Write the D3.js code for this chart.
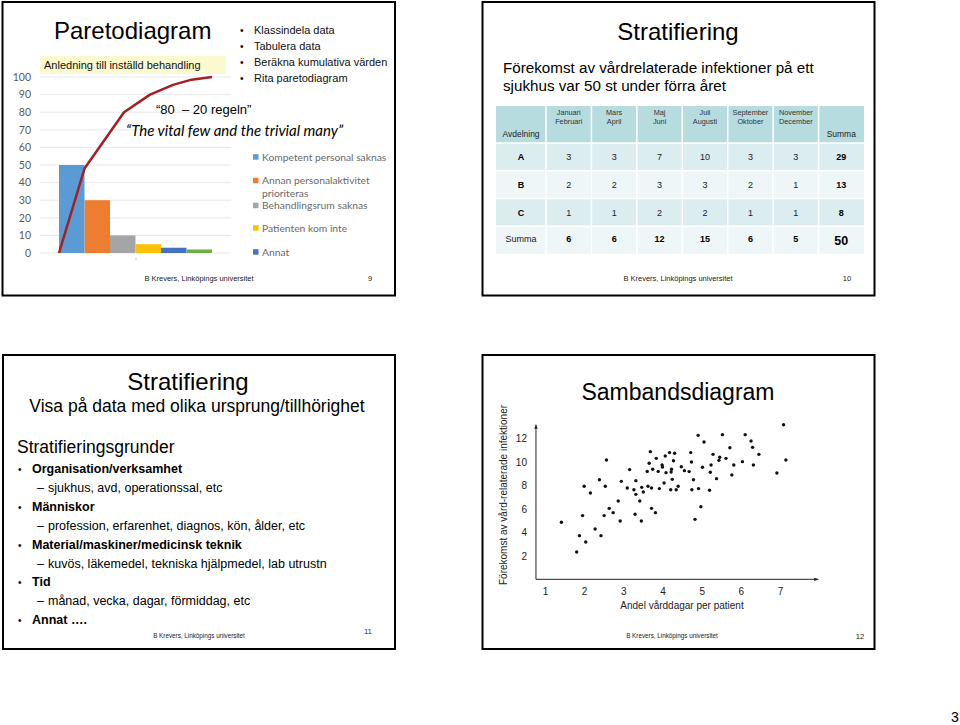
<!DOCTYPE html>
<html><head><meta charset="utf-8">
<script src="https://cdn.jsdelivr.net/npm/d3@7"></script>
<style>
body{margin:0;background:#fff;}
svg text{font-family:"Liberation Sans",Arial,sans-serif;}
</style></head><body>
<svg id="c" width="960" height="725"></svg>
<script>
// ---------- DATA ----------
// Slide 9: Pareto
const paretoCategories = ["Kompetent personal saknas","Annan personalaktivitet prioriteras","Behandlingsrum saknas","Patienten kom inte","Annat","Övrigt"];
const paretoValues = [50, 30, 10, 5, 3, 2];
const paretoColors = ["#5b9bd5","#ed7d31","#a5a5a5","#ffc000","#4472c4","#70ad47"];
const paretoLegend = ["Kompetent personal saknas","Annan personalaktivitet|prioriteras","Behandlingsrum saknas","Patienten kom inte","Annat"];
const paretoTicks = [0,10,20,30,40,50,60,70,80,90,100];
const cumulativeX = [0, 1, 2.55, 3.57, 4.47, 5.2, 6];   // position in bar units
const cumulativeY = [0, 48, 80, 90, 95.5, 98.5, 100];
const paretoBullets = ["Klassindela data","Tabulera data","Beräkna kumulativa värden","Rita paretodiagram"];

// Slide 10: stratification table
const tablePeriods = [["Januari","Februari"],["Mars","April"],["Maj","Juni"],["Juli","Augusti"],["September","Oktober"],["November","December"]];
const tableDepartments = ["A","B","C"];
const deptA = [3, 3, 7, 10, 3, 3];
const deptB = [2, 2, 3, 3, 2, 1];
const deptC = [1, 1, 2, 2, 1, 1];

// Slide 11: text list
const strataGroups = ["Organisation/verksamhet","Människor","Material/maskiner/medicinsk teknik","Tid","Annat …."];
const strataExamples = ["sjukhus, avd, operationssal, etc","profession, erfarenhet, diagnos, kön, ålder, etc","kuvös, läkemedel, tekniska hjälpmedel, lab utrustn","månad, vecka, dagar, förmiddag, etc"];

// Slide 12: scatter
const scatterX = [1.42,1.81,1.88,1.96,2.00,2.04,2.16,2.28,2.39,2.43,2.51,2.54,2.57,2.64,2.74,2.87,2.92,2.95,3.10,3.16,3.27,3.30,3.32,3.32,3.42,3.46,3.47,3.51,3.61,3.63,3.66,3.69,3.72,3.72,3.75,3.82,3.84,3.89,3.92,3.99,4.00,4.04,4.07,4.09,4.18,4.21,4.22,4.23,4.25,4.28,4.31,4.35,4.40,4.48,4.56,4.68,4.72,4.74,4.75,4.79,4.83,4.91,4.92,4.98,5.02,5.06,5.20,5.22,5.24,5.29,5.38,5.44,5.46,5.53,5.62,5.72,5.77,5.82,6.04,6.11,6.26,6.30,6.32,6.46,6.92,7.09,7.15];
const scatterY = [4.86,2.33,3.72,5.43,7.93,3.18,7.36,4.29,8.49,3.72,5.43,7.93,10.17,6.05,5.68,6.68,4.97,8.35,7.78,9.35,7.64,5.54,7.24,8.41,6.68,4.97,7.84,7.44,9.20,7.93,9.89,10.88,6.05,7.78,9.38,5.68,10.31,9.20,7.73,9.74,9.57,8.21,10.51,9.09,10.80,7.64,9.15,9.38,8.52,10.11,10.74,7.64,7.93,9.60,9.26,9.18,10.80,10.00,7.64,8.49,5.11,12.27,7.73,6.19,9.55,11.70,7.59,9.12,9.74,10.65,8.58,10.14,10.40,12.33,10.31,11.22,8.89,9.74,10.03,12.33,11.79,11.25,9.74,10.65,9.06,13.18,10.17];
const scatterXTicks = [1,2,3,4,5,6,7];
const scatterYTicks = [2,4,6,8,10,12];

const footer = "B Krevers, Linköpings universitet";

// ---------- DRAW ----------
const svg = d3.select("#c");

function txt(g, x, y, s, o = {}) {
  const t = g.append("text").attr("x", x).attr("y", y).text(s)
    .attr("font-size", o.size || 12).attr("fill", o.fill || "#000");
  if (o.anchor) t.attr("text-anchor", o.anchor);
  if (o.weight) t.attr("font-weight", o.weight);
  if (o.style) t.attr("font-style", o.style);
  if (o.family) t.style("font-family", o.family);
  if (o.pre) t.style("white-space", "pre");
  return t;
}

// slide frames
const frames = [[2.5,2,392.5,293.5],[482.5,2,392,293.5],[3,355,392,294],[482.5,355,392,294]];
svg.selectAll("rect.frame").data(frames).join("rect").attr("class","frame")
  .attr("x", d => d[0]).attr("y", d => d[1]).attr("width", d => d[2]).attr("height", d => d[3])
  .attr("fill", "none").attr("stroke", "#000").attr("stroke-width", 2);

// ===== Slide 9: Pareto =====
{
  const g = svg.append("g");
  txt(g, 54, 39, "Paretodiagram", {size: 24});
  g.append("rect").attr("x", 40).attr("y", 56).attr("width", 186).attr("height", 18).attr("fill", "#fbf9cf");
  txt(g, 44, 69, "Anledning till inställd behandling", {size: 11, fill: "#111"});

  paretoBullets.forEach((b, i) => {
    txt(g, 240, 34 + i * 16, "•", {size: 10});
    txt(g, 254, 34 + i * 16, b, {size: 11, fill: "#111"});
  });

  const yP = d3.scaleLinear().domain([0, 100]).range([253, 77]);
  const xP = d3.scaleBand().domain(d3.range(paretoValues.length)).range([59, 212]).padding(0);
  const xC = d3.scaleLinear().domain([0, paretoValues.length]).range([59, 212]);

  g.selectAll("line.grid").data(paretoTicks).join("line").attr("class","grid")
    .attr("x1", 40).attr("x2", 231).attr("y1", d => yP(d)).attr("y2", d => yP(d))
    .attr("stroke", "#e2e2e2").attr("stroke-width", 0.8);

  const ax = g.append("g").attr("transform", "translate(31,0)")
    .call(d3.axisLeft(yP).tickValues(paretoTicks).tickSize(0).tickPadding(0));
  ax.select(".domain").remove();
  ax.selectAll("text").attr("font-size", 10.5).attr("fill", "#595959").style("font-family", "Lato, 'Liberation Sans', sans-serif");

  g.selectAll("rect.bar").data(paretoValues).join("rect").attr("class","bar")
    .attr("x", (d, i) => xP(i)).attr("width", xP.bandwidth())
    .attr("y", d => yP(d)).attr("height", d => yP(0) - yP(d))
    .attr("fill", (d, i) => paretoColors[i]);

  g.append("line").attr("x1", 136).attr("x2", 136).attr("y1", 257.5).attr("y2", 260).attr("stroke", "#aaa").attr("stroke-width", 0.7);

  const pts = cumulativeX.map((x, i) => [x, cumulativeY[i]]);
  g.append("path").datum(pts)
    .attr("d", d3.line().x(d => xC(d[0])).y(d => yP(d[1])))
    .attr("fill", "none").attr("stroke", "#a41e22").attr("stroke-width", 2.5).attr("stroke-linejoin", "round");

  txt(g, 156, 114, "“80  – 20 regeln”", {size: 13, pre: true});
  txt(g, 126, 136, "“The vital few and the trivial many”", {size: 15, style: "italic", family: "Lato, 'Open Sans', sans-serif"});

  const legY = [157, 180.5, 205.5, 228, 252];
  paretoLegend.forEach((name, i) => {
    g.append("rect").attr("x", 253).attr("y", legY[i] - 2.8).attr("width", 5.5).attr("height", 5.5).attr("fill", paretoColors[i]);
    name.split("|").forEach((line, j) => {
      txt(g, 262, legY[i] + 3.6 + j * 12.5, line, {size: 10.3, fill: "#6a6a6a", family: "Lato, 'Open Sans', sans-serif"});
    });
  });

  txt(g, 199, 281, footer, {size: 7.5, anchor: "middle", fill: "#222"});
  txt(g, 370, 281, "9", {size: 7.5, anchor: "middle", fill: "#222"});
}

// ===== Slide 10: table =====
{
  const g = svg.append("g");
  txt(g, 678, 40, "Stratifiering", {size: 24, anchor: "middle"});
  txt(g, 503, 73, "Förekomst av vårdrelaterade infektioner på ett", {size: 15.2});
  txt(g, 503, 91, "sjukhus var 50 st under förra året", {size: 15.2});

  const rows = [deptA, deptB, deptC];
  const colSums = d3.range(tablePeriods.length).map(j => d3.sum(rows, r => r[j]));
  const rowSums = rows.map(r => d3.sum(r));
  const total = d3.sum(rowSums);

  const colX = d3.scaleBand().domain(d3.range(tablePeriods.length + 1)).range([546, 864]);
  const rowY = d3.scaleBand().domain(d3.range(4)).range([143, 254]);
  const firstX = 496;

  g.append("rect").attr("x", firstX).attr("y", 106).attr("width", 864 - firstX).attr("height", 37).attr("fill", "#b6dce0");
  const rowFill = ["#dcedef", "#eef6f7", "#dcedef", "#eef6f7"];
  g.selectAll("rect.row").data(d3.range(4)).join("rect").attr("class","row")
    .attr("x", firstX).attr("y", d => rowY(d)).attr("width", 864 - firstX).attr("height", rowY.bandwidth())
    .attr("fill", d => rowFill[d]);
  g.selectAll("line.vsep").data(d3.range(tablePeriods.length + 1)).join("line").attr("class","vsep")
    .attr("x1", d => colX(d)).attr("x2", d => colX(d)).attr("y1", 106).attr("y2", 254)
    .attr("stroke", "#fff").attr("stroke-width", 1.5);
  g.selectAll("line.hsep").data(d3.range(4)).join("line").attr("class","hsep")
    .attr("x1", firstX).attr("x2", 864).attr("y1", d => rowY(d)).attr("y2", d => rowY(d))
    .attr("stroke", "#fff").attr("stroke-width", 1.5);

  const cx = j => colX(j) + colX.bandwidth() / 2;
  const cy = i => rowY(i) + rowY.bandwidth() / 2;
  const c0 = (firstX + 546) / 2;

  tablePeriods.forEach((p, j) => {
    txt(g, cx(j), 115, p[0], {size: 7.3, anchor: "middle", fill: "#333"});
    txt(g, cx(j), 124, p[1], {size: 7.3, anchor: "middle", fill: "#333"});
  });
  txt(g, c0, 137, "Avdelning", {size: 8.5, anchor: "middle", fill: "#222"});
  txt(g, cx(6), 137, "Summa", {size: 8.5, anchor: "middle", fill: "#222"});

  rows.forEach((r, i) => {
    txt(g, c0, cy(i) + 3.3, tableDepartments[i], {size: 9, anchor: "middle", weight: "bold"});
    r.forEach((v, j) => txt(g, cx(j), cy(i) + 3.3, v, {size: 9, anchor: "middle", fill: "#222"}));
    txt(g, cx(6), cy(i) + 3.3, rowSums[i], {size: 9, anchor: "middle", weight: "bold"});
  });
  txt(g, c0, cy(3) + 2.3, "Summa", {size: 9, anchor: "middle", fill: "#222"});
  colSums.forEach((v, j) => txt(g, cx(j), cy(3) + 2.3, v, {size: 9, anchor: "middle", weight: "bold"}));
  txt(g, cx(6), cy(3) + 4.5, total, {size: 12.5, anchor: "middle", weight: "bold"});

  txt(g, 678, 281, footer, {size: 7.5, anchor: "middle", fill: "#222"});
  txt(g, 847, 281, "10", {size: 7.5, anchor: "middle", fill: "#222"});
}

// ===== Slide 11: text =====
{
  const g = svg.append("g");
  txt(g, 188, 390, "Stratifiering", {size: 24, anchor: "middle"});
  txt(g, 197, 412, "Visa på data med olika ursprung/tillhörighet", {size: 17.5, anchor: "middle"});
  txt(g, 17, 453, "Stratifieringsgrunder", {size: 17.5});
  const gy = [468, 506, 544, 581, 619];
  const ey = [487, 525, 563, 600];
  strataGroups.forEach((s, i) => {
    txt(g, 18, gy[i] + 4.5, "•", {size: 10});
    txt(g, 32, gy[i] + 4.5, s, {size: 12.5, weight: "bold"});
  });
  strataExamples.forEach((s, i) => {
    txt(g, 37, ey[i] + 4.5, "–", {size: 12.5});
    txt(g, 48, ey[i] + 4.5, s, {size: 12.5});
  });
  txt(g, 199, 638, footer, {size: 6.3, anchor: "middle", fill: "#222"});
  txt(g, 368, 634, "11", {size: 7, anchor: "middle", fill: "#222"});
}

// ===== Slide 12: scatter =====
{
  const g = svg.append("g");
  txt(g, 678, 400, "Sambandsdiagram", {size: 23, anchor: "middle"});
  const xS = d3.scaleLinear().domain([0, 8]).range([505.8, 819.2]);
  const yS = d3.scaleLinear().domain([0, 13]).range([579.3, 426.8]);
  const x0 = xS(0.77), y0 = yS(0);

  g.append("line").attr("x1", x0).attr("x2", x0).attr("y1", y0).attr("y2", yS(13.1)).attr("stroke", "#222").attr("stroke-width", 1);
  g.append("line").attr("x1", x0).attr("x2", xS(7.9)).attr("y1", y0).attr("y2", y0).attr("stroke", "#222").attr("stroke-width", 1);
  const ty = yS(13.25), tx = xS(8.0);
  g.append("path").attr("d", `M${x0},${ty} L${x0 - 1.6},${ty + 5} L${x0 + 1.6},${ty + 5} Z`).attr("fill", "#222");
  g.append("path").attr("d", `M${tx},${y0} L${tx - 5},${y0 - 1.6} L${tx - 5},${y0 + 1.6} Z`).attr("fill", "#222");

  const axX = g.append("g").attr("transform", `translate(0,${y0 + 9})`)
    .call(d3.axisBottom(xS).tickValues(scatterXTicks).tickSize(0).tickPadding(0));
  axX.select(".domain").remove();
  axX.selectAll("text").attr("font-size", 10).attr("fill", "#222");

  const axY = g.append("g").attr("transform", `translate(${x0 - 9},0)`)
    .call(d3.axisLeft(yS).tickValues(scatterYTicks).tickSize(0).tickPadding(0));
  axY.select(".domain").remove();
  axY.selectAll("text").attr("font-size", 10).attr("fill", "#222");

  g.selectAll("circle.pt").data(scatterX).join("circle").attr("class","pt")
    .attr("cx", d => xS(d)).attr("cy", (d, i) => yS(scatterY[i])).attr("r", 1.7).attr("fill", "#111");

  txt(g, 682, 609, "Andel vårddagar per patient", {size: 10, anchor: "middle", fill: "#222"});
  txt(g, 0, 0, "Förekomst av vård-relaterade infektioner", {size: 10, anchor: "middle", fill: "#222"})
    .attr("transform", "translate(507,495) rotate(-90)");

  txt(g, 672, 638, footer, {size: 6.3, anchor: "middle", fill: "#222"});
  txt(g, 860, 639, "12", {size: 7.5, anchor: "middle", fill: "#222"});
}

// page number
txt(svg, 955, 722, "3", {size: 14, anchor: "middle"});
</script>
</body></html>
